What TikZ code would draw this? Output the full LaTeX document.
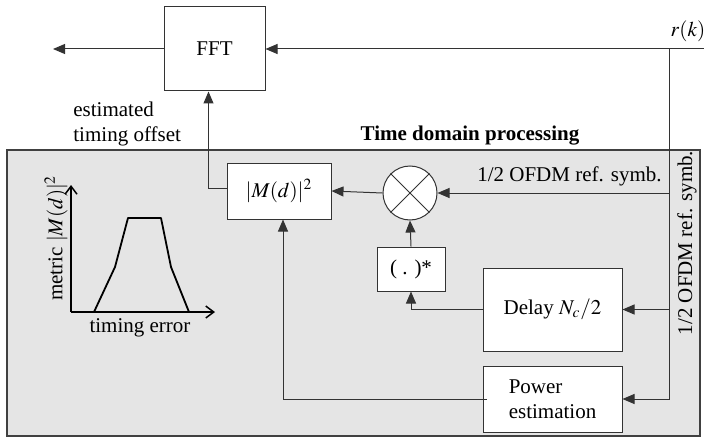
\documentclass[tikz,border=0pt]{standalone}
\usepackage{mathptmx}
\usepackage{fontspec}
\setmainfont{Liberation Serif}
\usetikzlibrary{positioning,arrows.meta}

\begin{document}
\begin{tikzpicture}[x=0.5pt, y=-0.5pt, every node/.style={font=\fontsize{10.5}{12.5}\selectfont},
  >={Triangle[length=6pt,width=5pt]}]
\tikzstyle{box}=[draw=black!80, line width=0.5pt, fill=white, align=center, inner sep=0pt]
\tikzstyle{conn}=[draw=black!80, line width=0.5pt]
\tikzstyle{lbl}=[inner sep=0pt]
\tikzstyle{axis}=[line width=0.75pt, -{Straight Barb[length=4pt,width=6pt]}]
\useasboundingbox (0,0) rectangle (704,438);
% time domain part
\draw[draw=black!75, fill=black!10, line width=0.6pt] (7,150) rectangle (700,436);
\node[lbl, font=\bfseries\fontsize{10.5}{12.5}\selectfont] (title) at (470,136) {Time domain processing};
% blocks
\node[box, minimum width=50.5pt, minimum height=42pt] (fft) at (214.5,49) {FFT};
\node[box, minimum width=52pt, minimum height=28pt] (mag) at (279,191) {$|M(d)|^2$};
\node[box, circle, minimum size=27pt] (mult) at (410,193) {};
\node[box, minimum width=34pt, minimum height=22pt] (conj) at (411,269) {( . )*};
\node[box, minimum width=69.5pt, minimum height=41.5pt] (delay) at (552.5,309.5) {Delay $N_c/2$};
\node[box, minimum width=69.5pt, minimum height=33pt, align=left] (power) at (552.5,399) {Power\\estimation};
\draw[conn] (mult.north west) -- (mult.south east) (mult.north east) -- (mult.south west);
% labels
\node[lbl] (rk) at (688,31) {$r(k)$};
\node[lbl, align=left, anchor=west] (est) at (73,124) {estimated\\timing offset};
\node[lbl, anchor=east] (half) at (662,176) {1/2 OFDM ref. symb.};
\node[lbl, rotate=90] (halfv) at (687,243) {1/2 OFDM ref. symb.};
% connectors
\coordinate (out) at (53,49);
\coordinate (rin) at (704,49);
\coordinate (tap) at (669,49);
\draw[conn, ->] (fft.west) -- (out);
\draw[conn, ->] (rin) -- (fft.east);
\draw[conn, ->] (tap) |- (power.east);
\draw[conn, ->] (tap |- mult.east) -- (mult.east);
\draw[conn, ->] (tap |- delay.east) -- (delay.east);
\draw[conn, ->] (delay.west) -| (conj.south);
\draw[conn, ->] (conj.north) -- (mult.south);
\draw[conn, ->] (mult.west) -- (mag.east);
\draw[conn, ->] ([xshift=2pt]power.west) -| ([xshift=2pt]mag.south);
\draw[conn, ->] ([yshift=1.5pt]mag.west) -| ([xshift=-3pt]fft.south);
% metric sketch
\coordinate (org) at (71,312);
\draw[axis] (org) -- (71,185);
\draw[axis] (org) -- (215,312);
\draw[line width=0.9pt, line join=round] (94,312) -- (115,267) -- (128,218) -- (161,218) -- (171,267) -- (189,312);
\node[lbl] (xl) at (140,328) {timing error};
\node[lbl, rotate=90] (yl) at (56,238) {metric $|M(d)|^2$};
\end{tikzpicture}
\end{document}
